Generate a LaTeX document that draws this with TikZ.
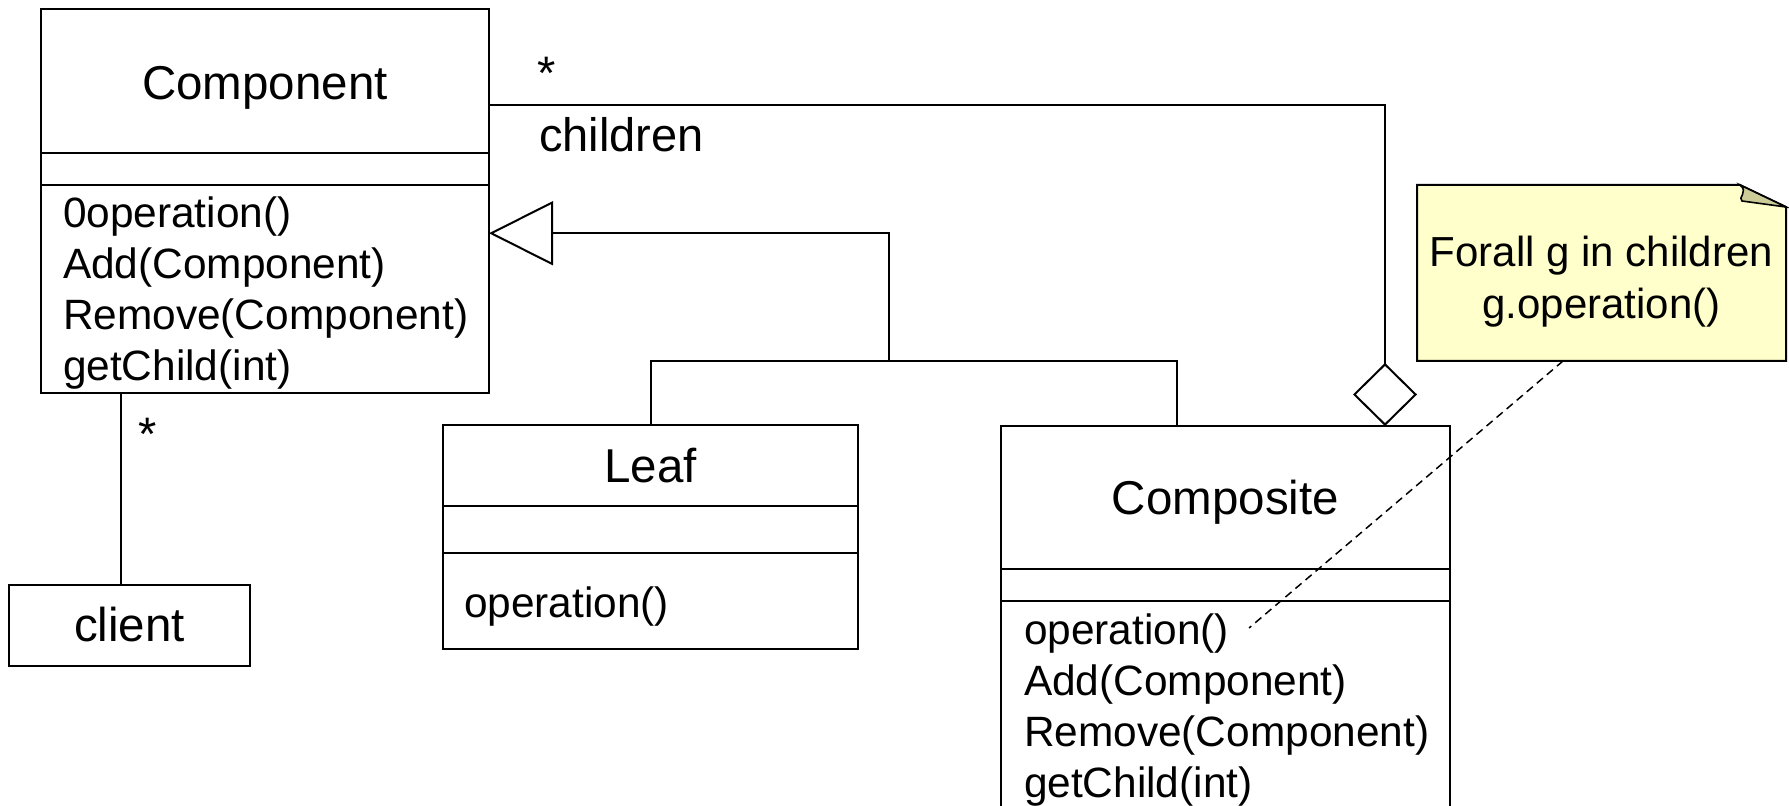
\documentclass[tikz,border=0pt]{standalone}
\usepackage{fontspec}
\setmainfont{Liberation Sans}
\usetikzlibrary{arrows.meta,calc}
\definecolor{notefill}{HTML}{FFFFCC}
\definecolor{foldfill}{HTML}{CCCC99}
\begin{document}
\begin{tikzpicture}[x=0.5pt,y=-0.5pt,
  line width=1pt,
  classbox/.style={draw, line width=1pt, anchor=north west, inner sep=0pt, outer sep=0pt, fill=white},
  titletext/.style={font=\fontsize{23.75pt}{28pt}\selectfont, anchor=base, inner sep=0pt},
  member/.style={font=\fontsize{21.2pt}{25pt}\selectfont, anchor=base west, inner sep=0pt},
  lbl/.style={font=\fontsize{23.5pt}{28pt}\selectfont, anchor=base, inner sep=0pt},
  notetext/.style={font=\fontsize{21pt}{25pt}\selectfont, anchor=base, inner sep=0pt},
  inherit/.style={-{Triangle[open,length=32pt,width=32pt]}},
  aggreg/.style={-{Diamond[open,length=31.5pt,width=32pt]}},
  notelink/.style={line width=0.75pt, dash pattern=on 4pt off 2.6pt}
]
\useasboundingbox (0,0) rectangle (1789,806);
\fill[white] (0,0) rectangle (1789,806);
\clip (0,0) rectangle (1789,806);

% ---- Component class
\node[classbox, minimum width=224pt, minimum height=191.75pt] (comp) at (41,9.5) {};
\draw ($(comp.north west)+(0,143.5)$) -- ($(comp.north east)+(0,143.5)$);
\draw ($(comp.north west)+(0,175.5)$) -- ($(comp.north east)+(0,175.5)$);
\node[titletext] (compT) at (265,100) {Component};
\node[member] (cm1) at (62,228) {0operation()};
\node[member] (cm2) at (62,278.7) {Add(Component)};
\node[member] (cm3) at (62,329.4) {Remove(Component)};
\node[member] (cm4) at (62,380.1) {getChild(int)};

% ---- client
\node[classbox, minimum width=120.5pt, minimum height=40.5pt] (client) at (9,585) {};
\node[titletext] (clientT) at (129.5,642) {client};

% ---- Leaf class
\node[classbox, minimum width=207.5pt, minimum height=112pt] (leaf) at (443,425) {};
\draw ($(leaf.north west)+(0,81)$) -- ($(leaf.north east)+(0,81)$);
\draw ($(leaf.north west)+(0,128)$) -- ($(leaf.north east)+(0,128)$);
\node[titletext] (leafT) at (650.5,483) {Leaf};
\node[member] (lm1) at (463,618) {operation()};

% ---- Composite class
\node[classbox, minimum width=224.5pt, minimum height=220pt] (compo) at (1001,426) {};
\draw ($(compo.north west)+(0,143)$) -- ($(compo.north east)+(0,143)$);
\draw ($(compo.north west)+(0,175)$) -- ($(compo.north east)+(0,175)$);
\node[titletext] (compoT) at (1225.5,515) {Composite};
\node[member] (co1) at (1023,645) {operation()};
\node[member] (co2) at (1023,695.7) {Add(Component)};
\node[member] (co3) at (1023,746.4) {Remove(Component)};
\node[member] (co4) at (1023,797.1) {getChild(int)};

% ---- note with folded corner
\node[inner sep=0pt, outer sep=0pt, minimum width=184.5pt, minimum height=88pt] (note) at (1601.5,273) {};
\filldraw[fill=notefill, line width=1pt] (note.south west) -- (note.north west)
  -- ($(note.north east)+(-46,0)$) -- ($(note.north east)+(0,22)$) -- (note.south east) -- cycle;
\filldraw[fill=foldfill, line width=0.8pt] ($(note.north east)+(-46,0)$)
  .. controls ($(note.north east)+(-37,7)$) and ($(note.north east)+(-49,13)$) .. ($(note.north east)+(-44,16)$)
  -- ($(note.north east)+(0,22)$) -- cycle;
\node[notetext] (nt1) at (1601.5,267) {Forall g in children};
\node[notetext] (nt2) at (1601.5,319) {g.operation()};

% ---- aggregation: Composite holds Component children
\draw[aggreg] ($(comp.north east)+(0,95.5)$) -| ($(compo.north west)+(384,0)$);
\node[lbl] (mult1) at (547,90) {*};
\node[lbl, anchor=base west] (role) at (538,152) {children};

% ---- generalization: Leaf and Composite are Components
\coordinate (jn) at (889,361);
\draw (leaf.north) |- (jn) -| ($(compo.north west)+(176,0)$);
\draw[inherit] (jn) |- ($(comp.east)+(0,32)$);

% ---- client uses Component
\coordinate (cl) at ($(client.north west)+(112,0)$);
\draw (cl) -- (cl |- comp.south);
\node[lbl] (mult2) at (148,451) {*};

% ---- note attached to Composite::operation()
\draw[notelink] ($(note.south west)+(146,0)$) -- ($(co1.base east)+(19,-17)$);
\end{tikzpicture}
\end{document}
